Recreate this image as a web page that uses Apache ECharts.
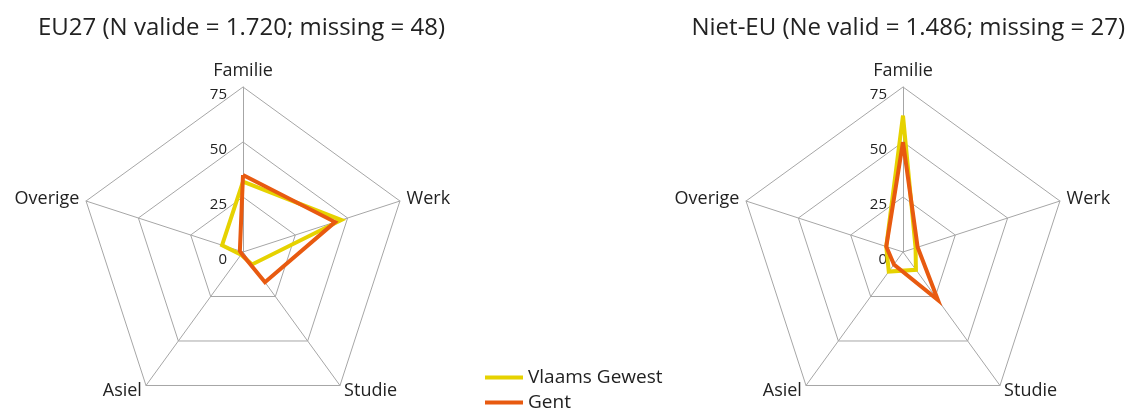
<!DOCTYPE html>
<html>
<head>
<meta charset="utf-8">
<script src="https://cdn.jsdelivr.net/npm/echarts@6/dist/echarts.min.js"></script>
<style>
  html, body { margin: 0; padding: 0; background: #fff; }
  #chart { width: 1134px; height: 409px; }
</style>
</head>
<body>
<div id="chart"></div>
<script>
// categories in reading order (clockwise from top)
var categories = ['Familie', 'Werk', 'Studie', 'Asiel', 'Overige'];
var axisMin = 0;
var axisMax = 75;
var axisStep = 25;

var seriesNames = ['Vlaams Gewest', 'Gent'];

// EU27 (N valide = 1.720; missing = 48)
var eu27Vlaams = [32, 47, 7, 1.5, 10];
var eu27Gent = [35, 44, 17, 1, 1.5];

// Niet-EU (Ne valid = 1.486; missing = 27)
var nietEuVlaams = [62, 6, 10, 11, 8];
var nietEuGent = [50, 7, 27, 7, 8];

var titles = [
  'EU27 (N valide = 1.720; missing = 48)',
  'Niet-EU (Ne valid = 1.486; missing = 27)'
];

var colors = ['#e6d200', '#e85a10'];
var font = 'Open Sans';

// echarts radar goes counterclockwise, so reorder: top, then left side...
var order = [0, 4, 3, 2, 1];
function reorder(arr) {
  return order.map(function (i) { return arr[i]; });
}

function makeRadar(center) {
  return {
    center: center,
    radius: 165,
    startAngle: 90,
    shape: 'polygon',
    splitNumber: (axisMax - axisMin) / axisStep,
    nameGap: 7,
    axisName: {
      color: '#222',
      fontSize: 18,
      fontFamily: font
    },
    indicator: reorder(categories).map(function (name, k) {
      var ind = { name: name, min: axisMin, max: axisMax };
      if (k === 0) {
        ind.axisLabel = {
          show: true,
          color: '#222',
          fontSize: 15,
          fontFamily: font,
          margin: 16,
          verticalAlign: 'top'
        };
      }
      return ind;
    }),
    axisLine: { lineStyle: { color: '#a6a6a6', width: 1 } },
    splitLine: { lineStyle: { color: '#a6a6a6', width: 1 } },
    splitArea: { show: false },
    axisTick: { show: false },
    axisLabel: { show: false }
  };
}

function makeSeries(radarIndex, vlaams, gent) {
  return {
    type: 'radar',
    radarIndex: radarIndex,
    symbol: 'none',
    silent: true,
    data: [
      {
        name: seriesNames[0],
        value: reorder(vlaams),
        lineStyle: { color: colors[0], width: 4, join: 'miter' },
        itemStyle: { color: colors[0] }
      },
      {
        name: seriesNames[1],
        value: reorder(gent),
        lineStyle: { color: colors[1], width: 4, join: 'miter' },
        itemStyle: { color: colors[1] }
      }
    ]
  };
}

var chart = echarts.init(document.getElementById('chart'), null, { renderer: 'canvas' });

var titleStyle = { fontSize: 24, fontWeight: 'normal', color: '#222', fontFamily: font };

var option = {
  animation: false,
  color: colors,
  title: [
    { text: titles[0], left: 33, top: 11, textStyle: titleStyle },
    { text: titles[1], right: 4, top: 11, textStyle: titleStyle }
  ],
  legend: {
    data: seriesNames,
    orient: 'vertical',
    left: 480,
    top: 363,
    height: 80,
    icon: 'rect',
    itemWidth: 38,
    itemHeight: 4,
    itemGap: 6,
    textStyle: { fontSize: 19, color: '#222', fontFamily: font, lineHeight: 19 }
  },
  radar: [makeRadar([243, 252]), makeRadar([903, 252])],
  series: [
    makeSeries(0, eu27Vlaams, eu27Gent),
    makeSeries(1, nietEuVlaams, nietEuGent)
  ]
};

chart.setOption(option);
</script>
</body>
</html>
